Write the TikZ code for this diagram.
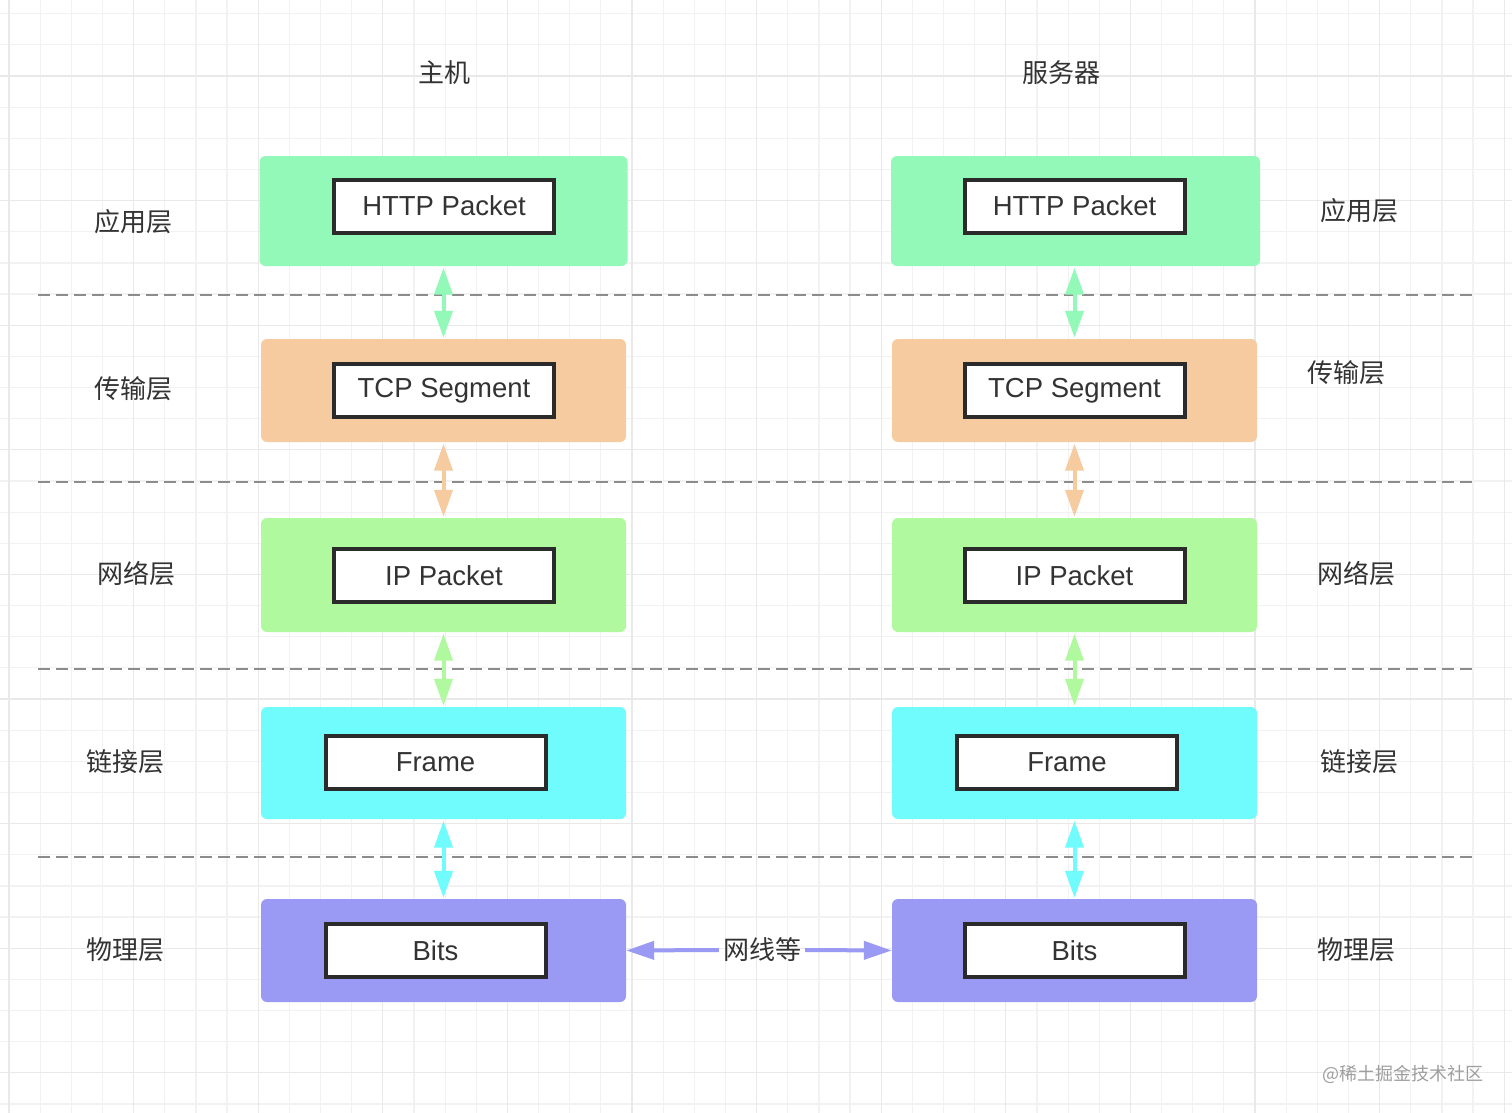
\documentclass[tikz,border=0pt]{standalone}
\usepackage{fontspec}
\setmainfont{Liberation Sans}
\newfontfamily\cjk{Noto Sans CJK SC}
\usetikzlibrary{arrows.meta}
\definecolor{txt}{HTML}{333333}
\definecolor{gmin}{HTML}{F2F2F2}
\definecolor{gmaj}{HTML}{E9E9E9}
\definecolor{cHttp}{HTML}{93F9B8}
\definecolor{cTcp}{HTML}{F7CBA0}
\definecolor{cIp}{HTML}{B0F99E}
\definecolor{cFrame}{HTML}{70FCFD}
\definecolor{cBits}{HTML}{9A9AF5}
\definecolor{dashc}{HTML}{8C8C8C}
\definecolor{inborder}{HTML}{2B2B2B}
\tikzset{
  outerbox/.style={rounded corners=6pt, minimum width=365pt, inner sep=0pt},
  innerbox/.style={draw=inborder, line width=4pt, fill=white, minimum width=220pt, minimum height=53pt, inner sep=0pt, text=txt, font=\fontsize{27.5}{31}\selectfont},
  lbl/.style={text=txt, font=\cjk\fontsize{26}{30}\selectfont, inner sep=0pt},
  layerline/.style={dashc, line width=2.5pt, dash pattern=on 12pt off 6pt},
  vlink/.style={line width=4pt, {Triangle[width=18pt,length=27pt]}-{Triangle[width=18pt,length=27pt]}},
  hhead/.style={line width=4pt, -{Triangle[width=18pt,length=28pt]}},
}
\begin{document}
\begin{tikzpicture}[x=1pt,y=-1pt]
\useasboundingbox (0,0) rectangle (1512,1113);
\fill[white] (0,0) rectangle (1512,1113);
% grid
\foreach \i in {0,...,48} \draw[gmin, line width=1.2pt] ({9+31.15*\i},0) -- ({9+31.15*\i},1113);
\foreach \j in {0,...,35} \draw[gmin, line width=1.2pt] (0,{13.7+31.15*\j}) -- (1512,{13.7+31.15*\j});
\foreach \i in {0,...,12} \draw[gmaj, line width=1.2pt] ({9+124.6*\i},0) -- ({9+124.6*\i},1113);
\foreach \j in {0,...,8} \draw[gmaj, line width=1.2pt] (0,{76+124.6*\j}) -- (1512,{76+124.6*\j});

% dashed layer separators
\foreach \y in {295,482,669,857} \draw[layerline] (38,\y) -- (1473,\y);

% headers
\node[lbl] (hostT) at (444,73) {主机};
\node[lbl] (servT) at (1061,73) {服务器};

% left column outer boxes
\node[outerbox, fill=cHttp, minimum width=368pt, minimum height=110pt] (lh) at (443.5,211) {};
\node[outerbox, fill=cTcp, minimum height=103pt] (lt) at (443.5,390.5) {};
\node[outerbox, fill=cIp, minimum height=114pt] (li) at (443.5,575) {};
\node[outerbox, fill=cFrame, minimum height=112pt] (lf) at (443.5,763) {};
\node[outerbox, fill=cBits, minimum height=103pt] (lb) at (443.5,950.5) {};
% right column outer boxes
\node[outerbox, fill=cHttp, minimum width=369pt, minimum height=110pt] (rh) at (1075.5,211) {};
\node[outerbox, fill=cTcp, minimum height=103pt] (rt) at (1074.5,390.5) {};
\node[outerbox, fill=cIp, minimum height=114pt] (ri) at (1074.5,575) {};
\node[outerbox, fill=cFrame, minimum height=112pt] (rf) at (1074.5,763) {};
\node[outerbox, fill=cBits, minimum height=103pt] (rb) at (1074.5,950.5) {};

% inner boxes
\node[innerbox] (lhi) at (444,206) {HTTP Packet};
\node[innerbox] (lti) at (444,390.5) {TCP Segment};
\node[innerbox] (lii) at (444,575.5) {IP Packet};
\node[innerbox] (lfi) at (435.5,762.5) {Frame};
\node[innerbox] (lbi) at (435.5,950.5) {Bits};
\node[innerbox] (rhi) at (1074.5,206) {HTTP Packet};
\node[innerbox] (rti) at (1074.5,390.5) {TCP Segment};
\node[innerbox] (rii) at (1074.5,575.5) {IP Packet};
\node[innerbox] (rfi) at (1067,762.5) {Frame};
\node[innerbox] (rbi) at (1074.5,950.5) {Bits};

% vertical links
\draw[vlink, cHttp, shorten <=1.5pt, shorten >=1pt] (lh.south) -- (lt.north);
\draw[vlink, cTcp, shorten <=1.5pt, shorten >=1pt] (lt.south) -- (li.north);
\draw[vlink, cIp, shorten <=1.5pt, shorten >=1pt] (li.south) -- (lf.north);
\draw[vlink, cFrame, shorten <=1.5pt, shorten >=1pt] (lf.south) -- (lb.north);
\draw[vlink, cHttp, shorten <=1.5pt, shorten >=1pt] (rt.north |- rh.south) -- (rt.north);
\draw[vlink, cTcp, shorten <=1.5pt, shorten >=1pt] (rt.south) -- (ri.north);
\draw[vlink, cIp, shorten <=1.5pt, shorten >=1pt] (ri.south) -- (rf.north);
\draw[vlink, cFrame, shorten <=1.5pt, shorten >=1pt] (rf.south) -- (rb.north);

% physical link
\node[lbl] (wire) at (762,950) {网线等};
\draw[hhead, cBits] ([xshift=-4pt]wire.west) -- (lb.east);
\draw[hhead, cBits] ([xshift=4pt]wire.east) -- (rb.west);

% left layer labels
\node[lbl] (l1) at (133,222) {应用层};
\node[lbl] (l2) at (133,389) {传输层};
\node[lbl] (l3) at (136,574) {网络层};
\node[lbl] (l4) at (125,762) {链接层};
\node[lbl] (l5) at (125,950) {物理层};
% right layer labels
\node[lbl] (r1) at (1359,211) {应用层};
\node[lbl] (r2) at (1346,373) {传输层};
\node[lbl] (r3) at (1356,574) {网络层};
\node[lbl] (r4) at (1359,762) {链接层};
\node[lbl] (r5) at (1356,950) {物理层};

% watermark
\node[text=black!38, font=\cjk\fontsize{18}{22}\selectfont, inner sep=0pt] (wm) at (1403,1074) {@稀土掘金技术社区};
\end{tikzpicture}
\end{document}
